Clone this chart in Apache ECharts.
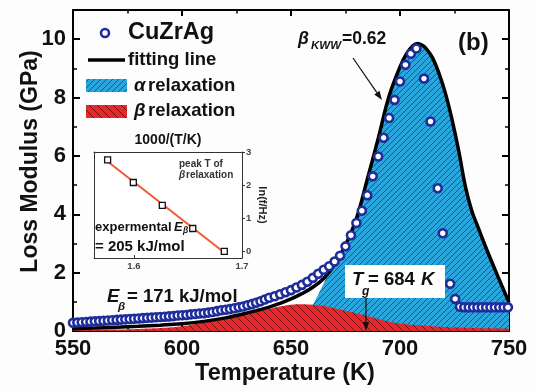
<!DOCTYPE html>
<html>
<head>
<meta charset="utf-8">
<script src="https://cdn.jsdelivr.net/npm/echarts@6/dist/echarts.min.js"></script>
<style>
  html, body { margin: 0; padding: 0; background: #fdfdfd; }
  #chart { width: 536px; height: 391px; }
</style>
</head>
<body>
<div id="chart"></div>
<script>
const FONT = '"Liberation Sans", Arial, Helvetica, sans-serif'

// measured loss modulus, circles (T in K, E'' in GPa)
const measT = [550, 552, 554, 556, 558, 560, 562, 564, 566, 568, 570, 572, 574, 576, 578, 580,
  582, 584, 586, 588, 590, 592, 594, 596, 598, 600, 602, 604, 606, 608, 610, 612, 614, 616, 618,
  620, 622, 624, 626, 628, 630, 632, 634, 636, 638, 640, 642.5, 645, 647.5, 650, 652.5, 655,
  657.5, 660, 662.5, 665, 667.5, 670, 672.5, 675, 677.5, 680, 682.5, 685, 687.5, 690, 692.5,
  695, 697.5, 700, 702.5, 705, 707.5, 711, 714, 717.3, 719.6, 723, 725.3, 727.5, 729.5, 731.5,
  733.5, 735.5, 737.5, 739.5, 741.5, 743.5, 745.5, 747.5, 749.5]
const measE = [0.28, 0.29, 0.30, 0.31, 0.32, 0.33, 0.34, 0.35, 0.36, 0.37, 0.38, 0.39, 0.40, 0.41,
  0.42, 0.43, 0.44, 0.45, 0.46, 0.47, 0.48, 0.49, 0.50, 0.51, 0.53, 0.54, 0.55, 0.57, 0.58, 0.60,
  0.61, 0.63, 0.65, 0.68, 0.71, 0.73, 0.75, 0.78, 0.81, 0.84, 0.88, 0.92, 0.97, 1.02, 1.08, 1.14,
  1.19, 1.26, 1.33, 1.40, 1.49, 1.58, 1.69, 1.82, 1.96, 2.10, 2.22, 2.38, 2.58, 2.90, 3.28, 3.70,
  4.12, 4.65, 5.30, 5.98, 6.62, 7.30, 7.92, 8.55, 9.12, 9.50, 9.68, 8.65, 7.18, 4.89, 3.35, 1.62,
  1.10, 0.83, 0.81, 0.81, 0.81, 0.81, 0.81, 0.81, 0.81, 0.81, 0.81, 0.81, 0.81]

// fitting line
const fitT = [550, 560, 570, 580, 590, 600, 610, 620, 630, 640, 645, 650, 655, 660, 665, 670, 675,
  680, 685, 690, 695, 700, 703, 706, 708, 710, 712, 715, 718, 721, 724, 727, 730, 733, 736, 740, 745, 750]
const fitE = [0.08, 0.10, 0.13, 0.16, 0.20, 0.25, 0.33, 0.45, 0.62, 0.82, 0.95, 1.10, 1.28, 1.50,
  1.80, 2.28, 2.95, 3.85, 5.20, 6.60, 8.05, 9.05, 9.50, 9.78, 9.85, 9.80, 9.68, 9.35, 8.80, 8.10,
  7.20, 6.15, 4.95, 4.10, 3.52, 2.75, 1.85, 0.98]

// alpha relaxation (blue area)
const alphaT = [660, 664.5, 669, 672, 675, 680, 685, 690, 695, 700, 703, 706, 708, 710, 712, 715,
  718, 721, 724, 727, 730, 733, 736, 740, 745, 750]
const alphaE = [0.88, 1.55, 2.25, 2.55, 2.95, 3.85, 5.20, 6.60, 8.05, 9.05, 9.50, 9.78, 9.85, 9.80,
  9.68, 9.35, 8.80, 8.10, 7.20, 6.15, 4.95, 4.10, 3.52, 2.75, 1.85, 0.98]

// beta relaxation (red area)
const betaT = [550, 560, 570, 580, 590, 600, 610, 620, 630, 640, 645, 650, 655, 660, 665, 670, 675,
  680, 685, 690, 695, 700, 710, 720, 730, 740, 750]
const betaE = [0.03, 0.04, 0.05, 0.07, 0.10, 0.16, 0.29, 0.43, 0.58, 0.76, 0.84, 0.90, 0.92, 0.90,
  0.86, 0.78, 0.69, 0.61, 0.51, 0.41, 0.32, 0.26, 0.19, 0.14, 0.11, 0.09, 0.08]

// inset: peak T of beta relaxation
const insetX = [1.5756, 1.5994, 1.6262, 1.6544, 1.6836]
const insetY = [2.76, 2.08, 1.39, 0.69, 0.00]

const majorY = [0, 2, 4, 6, 8, 10]
const minorY = [1, 3, 5, 7, 9]
const insetXTicks = [1.6, 1.7]
const insetYTicks = [0, 1, 2, 3]

const zip = (a, b) => a.map((v, i) => [v, b[i]])

// least squares line through the inset points
function linFit(xs, ys) {
  const n = xs.length
  const mx = xs.reduce((s, v) => s + v, 0) / n
  const my = ys.reduce((s, v) => s + v, 0) / n
  let sxy = 0, sxx = 0
  xs.forEach((x, i) => { sxy += (x - mx) * (ys[i] - my); sxx += (x - mx) * (x - mx) })
  const k = sxy / sxx
  const x0 = Math.min(...xs), x1 = Math.max(...xs)
  return [[x0, my + k * (x0 - mx)], [x1, my + k * (x1 - mx)]]
}

// hatch pattern tiles
function hatch(bg, line, size, slash) {
  const c = document.createElement('canvas')
  c.width = c.height = size
  const ctx = c.getContext('2d')
  ctx.fillStyle = bg
  ctx.fillRect(0, 0, size, size)
  ctx.strokeStyle = line
  ctx.lineWidth = 0.9
  ctx.beginPath()
  if (slash) {
    ctx.moveTo(0, size); ctx.lineTo(size, 0)
    ctx.moveTo(-1, 1); ctx.lineTo(1, -1)
    ctx.moveTo(size - 1, size + 1); ctx.lineTo(size + 1, size - 1)
  } else {
    ctx.moveTo(0, 0); ctx.lineTo(size, size)
    ctx.moveTo(-1, size - 1); ctx.lineTo(1, size + 1)
    ctx.moveTo(size - 1, -1); ctx.lineTo(size + 1, 1)
  }
  ctx.stroke()
  return c
}
const blueFill = { image: hatch('#2ba6dc', '#1b4d6e', 6, true), repeat: 'repeat' }
const redFill = { image: hatch('#e8262b', '#5c1412', 8, false), repeat: 'repeat' }

const labelFont = { fontFamily: FONT, fontSize: 22, fontWeight: 'bold', color: '#111' }
const frameLine = { onZero: false, lineStyle: { color: '#000', width: 2 } }
const majorTick = { inside: true, length: 7, lineStyle: { color: '#000', width: 2 } }
const minorTickY = { inside: true, length: 4, lineStyle: { color: '#000', width: 1.5 } }
const insetLine = { onZero: false, lineStyle: { color: '#333', width: 1 } }
const insetLabel = { fontFamily: FONT, fontSize: 9.5, fontWeight: 'bold', color: '#444' }

function txt(x, y, text, size, extra = {}) {
  return {
    type: 'text', x, y, z: 100,
    style: Object.assign({
      text, fontFamily: FONT, fontSize: size, fontWeight: 'bold', fill: '#111',
      align: 'left', verticalAlign: 'middle', textAlign: 'left', textVerticalAlign: 'middle'
    }, extra)
  }
}
const it = { fontStyle: 'italic' }

function arrow(x0, y0, x1, y1) {
  const len = Math.hypot(x1 - x0, y1 - y0)
  const ux = (x1 - x0) / len, uy = (y1 - y0) / len
  const bx = x1 - ux * 9, by = y1 - uy * 9
  return [
    { type: 'line', z: 100, shape: { x1: x0, y1: y0, x2: bx, y2: by }, style: { stroke: '#111', lineWidth: 1.2 } },
    { type: 'polygon', z: 100, shape: { points: [[x1, y1], [bx - uy * 3.2, by + ux * 3.2], [bx + uy * 3.2, by - ux * 3.2]] }, style: { fill: '#111' } }
  ]
}

const chart = echarts.init(document.getElementById('chart'))

chart.setOption({
  animation: false,
  backgroundColor: '#fdfdfd',
  grid: [
    { left: 73, right: 27, top: 10, bottom: 58 },
    { left: 94, right: 294, top: 152, bottom: 133, show: true, backgroundColor: '#fff', borderWidth: 0 }
  ],
  xAxis: [
    {
      gridIndex: 0, type: 'value', min: 550, max: 750, interval: 50, position: 'bottom',
      name: 'Temperature (K)', nameLocation: 'middle', nameGap: 31, nameMoveOverlap: false,
      nameTextStyle: { fontFamily: FONT, fontSize: 23.5, fontWeight: 'bold', color: '#111', padding: [0, 12, 0, 0] },
      axisLine: frameLine, axisTick: { inside: true, length: 6, lineStyle: { color: '#000', width: 2 } },
      minorTick: { show: true, splitNumber: 2, length: 3.5, lineStyle: { color: '#000', width: 1.5 } },
      axisLabel: Object.assign({ margin: 7 }, labelFont),
      splitLine: { show: false }, minorSplitLine: { show: false }
    },
    {
      gridIndex: 0, type: 'value', min: 550, max: 750, interval: 50, position: 'top',
      axisLine: frameLine, axisTick: { inside: true, length: 6, lineStyle: { color: '#000', width: 2 } },
      minorTick: { show: true, splitNumber: 2, length: 3.5, lineStyle: { color: '#000', width: 1.5 } },
      axisLabel: { show: false }, splitLine: { show: false }
    },
    {
      gridIndex: 1, type: 'value', min: 1.563, max: 1.7, position: 'bottom',
      axisLine: insetLine,
      axisTick: { inside: true, length: 3, customValues: insetXTicks, lineStyle: { color: '#333' } },
      axisLabel: Object.assign({ customValues: insetXTicks, margin: 3, formatter: v => v.toFixed(1) }, insetLabel),
      splitLine: { show: false }
    },
    {
      gridIndex: 1, type: 'value', min: 1.563, max: 1.7, position: 'top',
      name: '1000/(T/K)', nameLocation: 'middle', nameGap: 5, nameMoveOverlap: false,
      nameTextStyle: { fontFamily: FONT, fontSize: 14, fontWeight: 'bold', color: '#111' },
      axisLine: insetLine, axisTick: { show: false }, axisLabel: { show: false }, splitLine: { show: false }
    }
  ],
  yAxis: [
    {
      gridIndex: 0, type: 'value', min: 0, max: 11, position: 'left',
      name: 'Loss Modulus (GPa)', nameLocation: 'middle', nameGap: 31, nameMoveOverlap: false,
      nameTextStyle: { fontFamily: FONT, fontSize: 23, fontWeight: 'bold', color: '#111', padding: [0, 0, 0, 18] },
      axisLine: frameLine, axisTick: Object.assign({ customValues: majorY }, majorTick),
      axisLabel: Object.assign({ customValues: majorY, margin: 7 }, labelFont),
      splitLine: { show: false }
    },
    {
      gridIndex: 0, type: 'value', min: 0, max: 11, position: 'left',
      axisLine: { show: false }, axisTick: Object.assign({ customValues: minorY }, minorTickY),
      axisLabel: { show: false }, splitLine: { show: false }
    },
    {
      gridIndex: 0, type: 'value', min: 0, max: 11, position: 'right',
      axisLine: frameLine, axisTick: Object.assign({ customValues: majorY }, majorTick),
      axisLabel: { show: false }, splitLine: { show: false }
    },
    {
      gridIndex: 0, type: 'value', min: 0, max: 11, position: 'right',
      axisLine: { show: false }, axisTick: Object.assign({ customValues: minorY }, minorTickY),
      axisLabel: { show: false }, splitLine: { show: false }
    },
    {
      gridIndex: 1, type: 'value', min: -0.2, max: 3, position: 'right',
      name: 'ln(f/Hz)', nameLocation: 'middle', nameRotate: -90, nameGap: 15, nameMoveOverlap: false,
      nameTextStyle: { fontFamily: FONT, fontSize: 11, fontWeight: 'bold', color: '#222' },
      axisLine: insetLine,
      axisTick: { length: 3, customValues: insetYTicks, lineStyle: { color: '#333' } },
      axisLabel: Object.assign({ customValues: insetYTicks, margin: 4 }, insetLabel),
      splitLine: { show: false }
    },
    {
      gridIndex: 1, type: 'value', min: -0.2, max: 3, position: 'left',
      axisLine: insetLine, axisTick: { show: false }, axisLabel: { show: false }, splitLine: { show: false }
    }
  ],
  series: [
    {
      type: 'line', xAxisIndex: 0, yAxisIndex: 0, data: zip(alphaT, alphaE), smooth: 0.4,
      symbol: 'none', lineStyle: { width: 0 }, areaStyle: { color: blueFill, opacity: 1 }, z: 1, silent: true
    },
    {
      type: 'line', xAxisIndex: 0, yAxisIndex: 0, data: zip(betaT, betaE), smooth: 0.4,
      symbol: 'none', lineStyle: { width: 0 }, areaStyle: { color: redFill, opacity: 1 }, z: 2, silent: true
    },
    {
      type: 'line', xAxisIndex: 0, yAxisIndex: 0, data: zip(fitT, fitE), smooth: 0.4,
      symbol: 'none', lineStyle: { color: '#000', width: 3.5 }, z: 3
    },
    {
      type: 'scatter', xAxisIndex: 0, yAxisIndex: 0, data: zip(measT, measE), symbol: 'circle', symbolSize: 8,
      itemStyle: { color: '#fff', borderColor: '#1f2d9c', borderWidth: 2.6, opacity: 1 }, z: 4
    },
    {
      type: 'line', xAxisIndex: 2, yAxisIndex: 4, data: linFit(insetX, insetY),
      symbol: 'none', lineStyle: { color: '#f05a35', width: 2 }, z: 5
    },
    {
      type: 'scatter', xAxisIndex: 2, yAxisIndex: 4, data: zip(insetX, insetY), symbol: 'rect', symbolSize: 6,
      itemStyle: { color: '#fff', borderColor: '#111', borderWidth: 1.3, opacity: 1 }, z: 6
    }
  ],
  graphic: [
    // legend
    { type: 'circle', z: 100, shape: { cx: 105, cy: 33, r: 4 }, style: { fill: '#fff', stroke: '#1f2d9c', lineWidth: 2.6 } },
    txt(128, 33, 'CuZrAg', 23.5),
    { type: 'line', z: 100, shape: { x1: 88, y1: 60, x2: 125, y2: 60 }, style: { stroke: '#000', lineWidth: 3.5 } },
    txt(128, 60, 'fitting line', 18.5),
    { type: 'rect', z: 100, shape: { x: 86, y: 79, width: 41, height: 13 }, style: { fill: blueFill } },
    txt(134, 86, 'α', 18.5, it),
    txt(148, 86, 'relaxation', 18.5),
    { type: 'rect', z: 100, shape: { x: 86, y: 105, width: 41, height: 13 }, style: { fill: redFill } },
    txt(134, 111, 'β', 18.5, it),
    txt(148, 111, 'relaxation', 18.5),
    // panel tag
    txt(458, 43, '(b)', 24),
    // beta KWW
    txt(298, 39, 'β', 17.5, it),
    txt(311, 46, 'KWW', 11.5, it),
    txt(342, 39, '=0.62', 17.5),
    ...arrow(353, 58, 382, 100),
    // E beta
    txt(107, 297, 'E', 18.5, it),
    txt(118, 307, 'β', 11.5, it),
    txt(127, 297, '= 171 kJ/mol', 18.5),
    // Tg box
    { type: 'rect', z: 100, shape: { x: 345, y: 265, width: 100, height: 33 }, style: { fill: '#fff' } },
    txt(352, 280, 'T', 18.5, it),
    txt(362, 292, 'g', 12, it),
    txt(368, 280, '= 684', 18.5),
    txt(421, 280, 'K', 18.5, it),
    ...arrow(366, 298, 366, 331),
    // inset notes
    txt(179, 164, 'peak T of', 10, { fill: '#333' }),
    txt(179, 175, 'β', 10, Object.assign({ fill: '#333' }, it)),
    txt(186, 175, 'relaxation', 10, { fill: '#333' }),
    txt(95, 227, 'expermental', 13),
    txt(174, 227, 'E', 13, it),
    txt(183, 231, 'β', 8.5, it),
    txt(95, 247, '= 205 kJ/mol', 15)
  ]
})
</script>
</body>
</html>
